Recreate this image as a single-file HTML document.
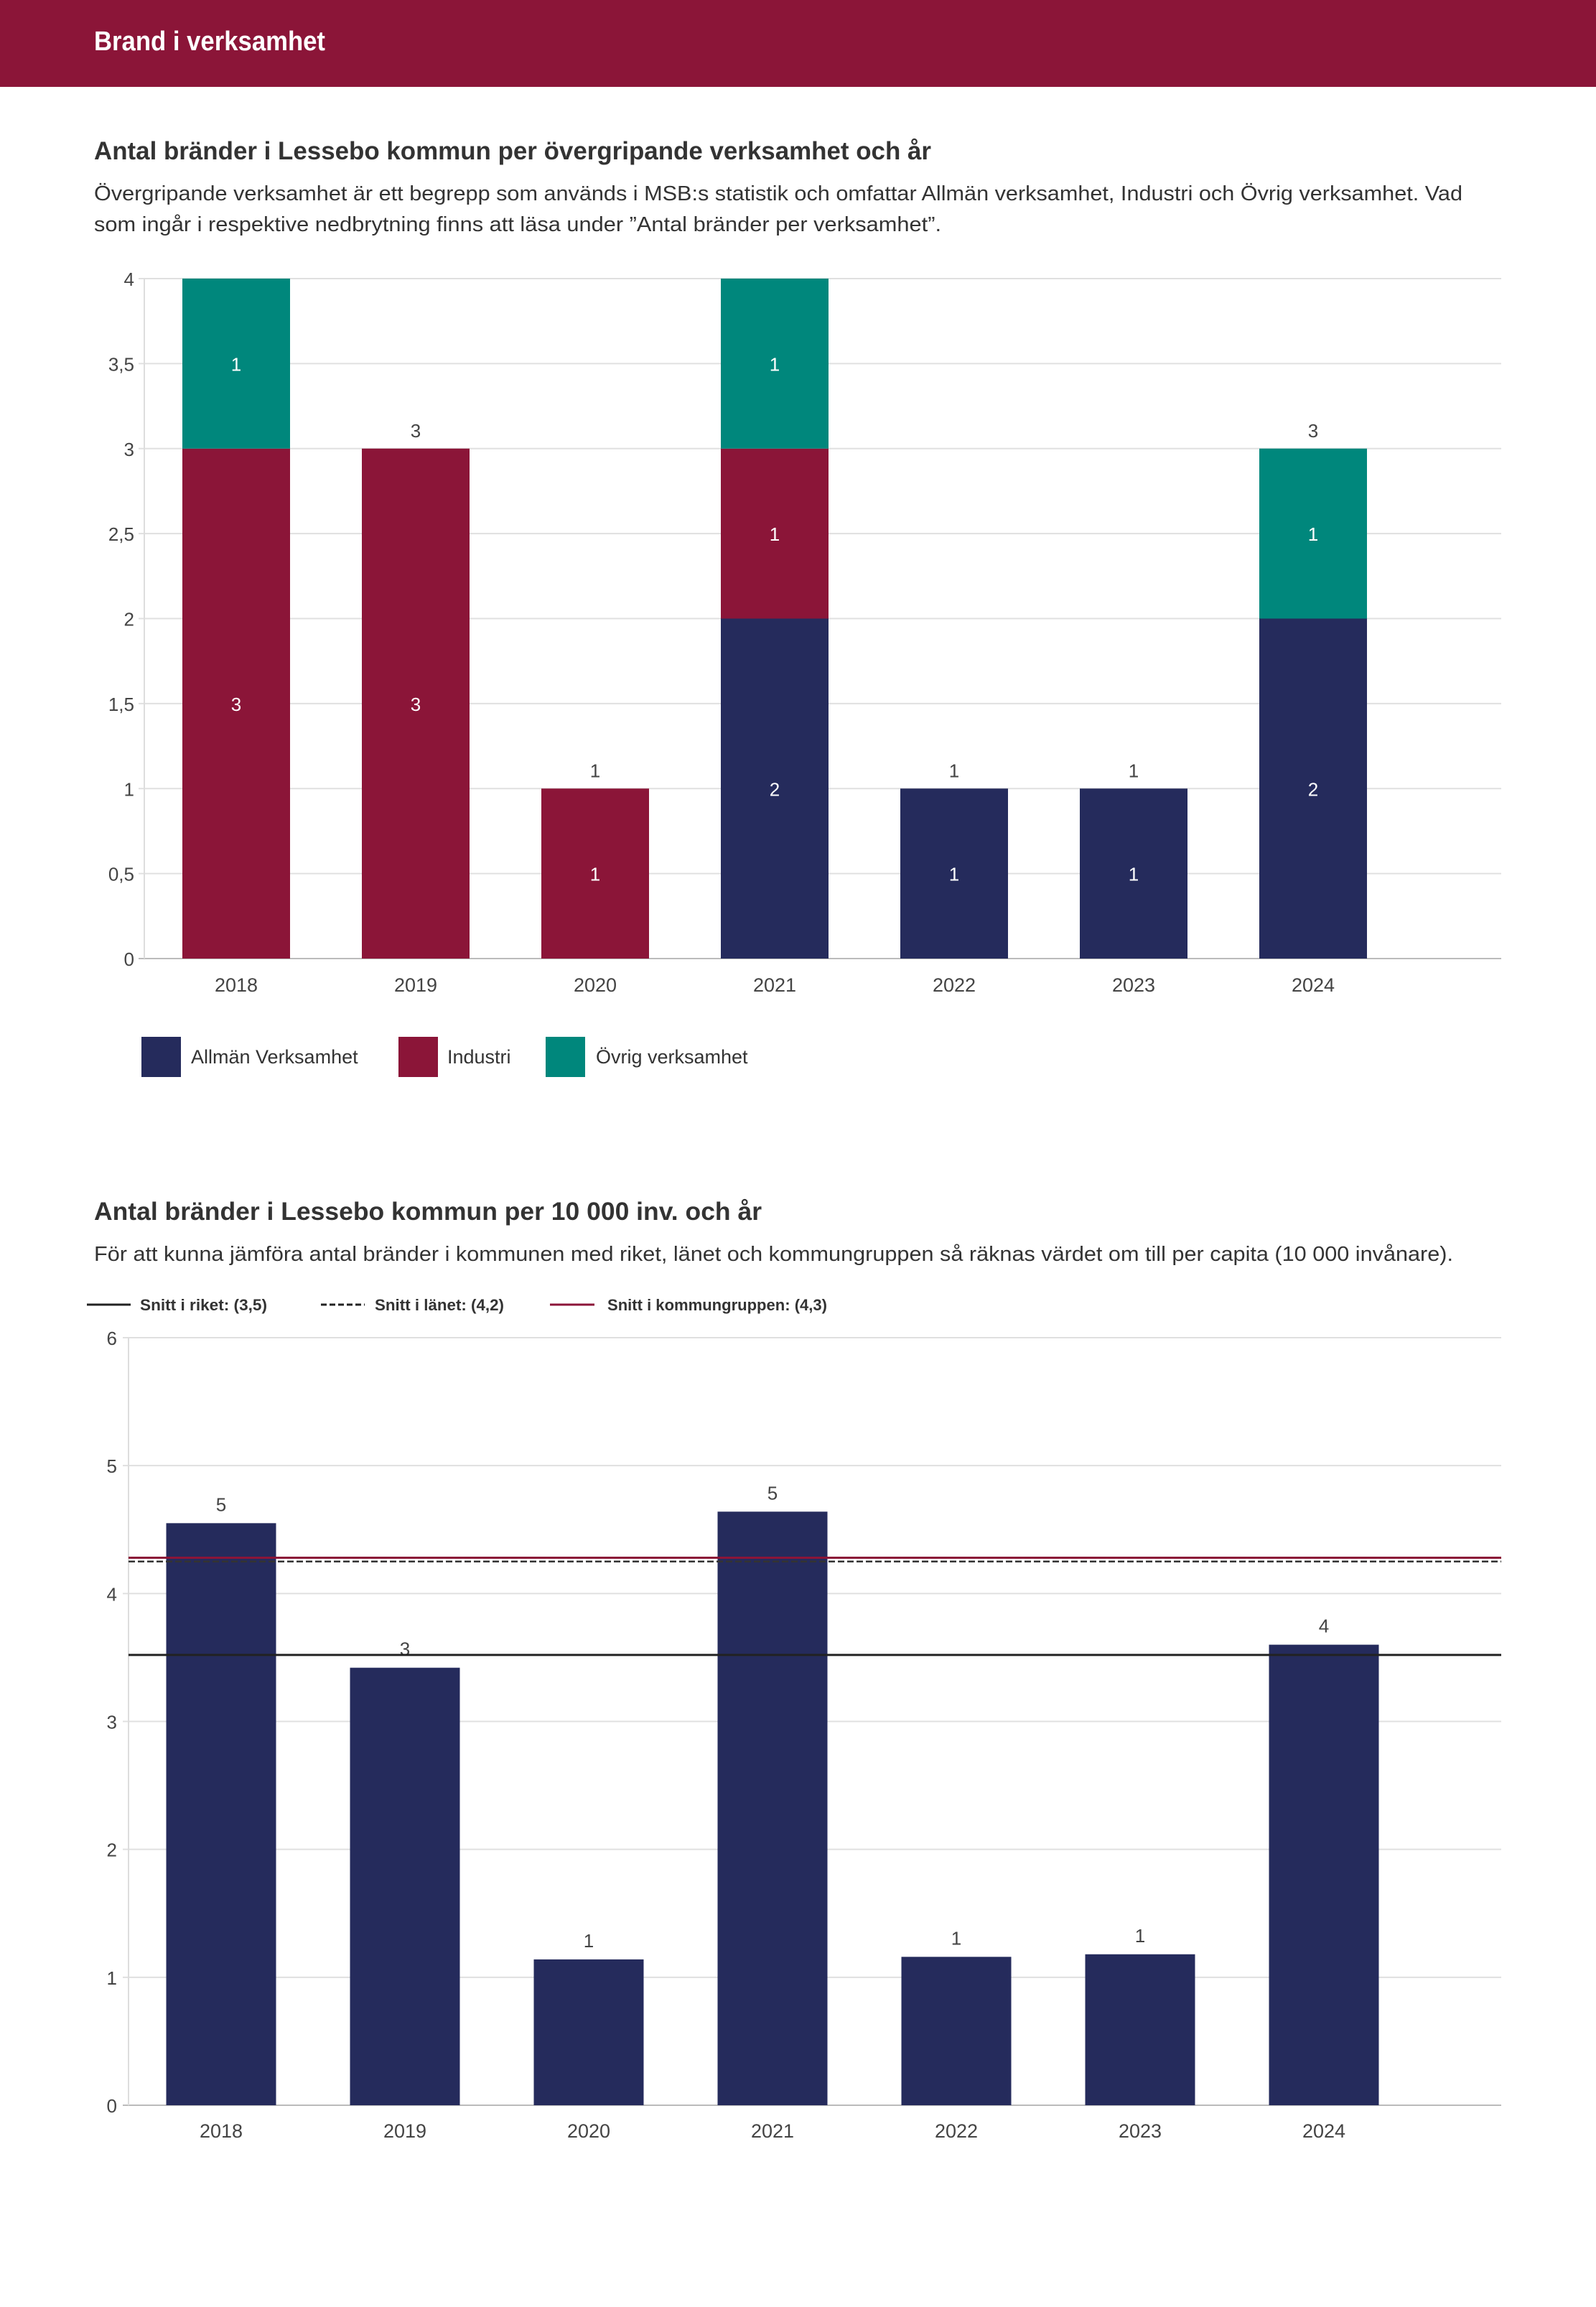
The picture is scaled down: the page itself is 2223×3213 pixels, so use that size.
<!DOCTYPE html>
<html><head><meta charset="utf-8"><style>
html,body{margin:0;padding:0;background:#fff;}
svg{display:block;font-family:"Liberation Sans",sans-serif;}
</style></head><body>
<svg id="page" width="2223" height="3213" viewBox="0 0 2223 3213" xmlns="http://www.w3.org/2000/svg">
<rect x="0" y="0" width="2223" height="121" fill="#8B1538"/>
<text x="131" y="70" font-size="38" font-weight="bold" fill="#fff" textLength="322" lengthAdjust="spacingAndGlyphs">Brand i verksamhet</text>

<text x="131" y="222" font-size="35" font-weight="bold" fill="#333" textLength="1166" lengthAdjust="spacingAndGlyphs">Antal bränder i Lessebo kommun per övergripande verksamhet och år</text>
<text x="131" y="279" font-size="29" fill="#333" textLength="1906" lengthAdjust="spacingAndGlyphs">Övergripande verksamhet är ett begrepp som används i MSB:s statistik och omfattar Allmän verksamhet, Industri och Övrig verksamhet. Vad</text>
<text x="131" y="322" font-size="29" fill="#333" textLength="1180" lengthAdjust="spacingAndGlyphs">som ingår i respektive nedbrytning finns att läsa under ”Antal bränder per verksamhet”.</text>
<g id="chart1"></g>

<g>
<rect x="197" y="1444" width="55" height="56" fill="#252B5C"/>
<text x="266" y="1481" font-size="27" fill="#333">Allmän Verksamhet</text>
<rect x="555" y="1444" width="55" height="56" fill="#8B1538"/>
<text x="623" y="1481" font-size="27" fill="#333">Industri</text>
<rect x="760" y="1444" width="55" height="56" fill="#00877C"/>
<text x="830" y="1481" font-size="27" fill="#333">Övrig verksamhet</text>
</g>

<text x="131" y="1699" font-size="35" font-weight="bold" fill="#333" textLength="930" lengthAdjust="spacingAndGlyphs">Antal bränder i Lessebo kommun per 10 000 inv. och år</text>
<text x="131" y="1756" font-size="29" fill="#333" textLength="1893" lengthAdjust="spacingAndGlyphs">För att kunna jämföra antal bränder i kommunen med riket, länet och kommungruppen så räknas värdet om till per capita (10 000 invånare).</text>
<g>
<line x1="121" y1="1817" x2="182" y2="1817" stroke="#222" stroke-width="3"/>
<text x="195" y="1825" font-size="22" font-weight="bold" fill="#333" textLength="177" lengthAdjust="spacingAndGlyphs">Snitt i riket: (3,5)</text>
<line x1="447" y1="1817" x2="508" y2="1817" stroke="#222" stroke-width="3" stroke-dasharray="8,4"/>
<text x="522" y="1825" font-size="22" font-weight="bold" fill="#333" textLength="180" lengthAdjust="spacingAndGlyphs">Snitt i länet: (4,2)</text>
<line x1="766" y1="1817" x2="828" y2="1817" stroke="#8B1538" stroke-width="3"/>
<text x="846" y="1825" font-size="22" font-weight="bold" fill="#333" textLength="306" lengthAdjust="spacingAndGlyphs">Snitt i kommungruppen: (4,3)</text>
</g>
<g id="chart2"></g>
</svg>
<script>
const years = ["2018","2019","2020","2021","2022","2023","2024"];
const allman = [0,0,0,2,1,1,2];
const industri = [3,3,1,1,0,0,0];
const ovrig = [1,0,0,1,0,0,1];
const ticks1 = [0,0.5,1,1.5,2,2.5,3,3.5,4];
const tickLabels1 = ["0","0,5","1","1,5","2","2,5","3","3,5","4"];

const perCapita = [4.55,3.42,1.14,4.64,1.16,1.18,3.60];
const perCapitaLabels = ["5","3","1","5","1","1","4"];
const avgRiket = [3.52];
const avgLanet = [4.25];
const avgKommungrupp = [4.28];
const ticks2 = [0,1,2,3,4,5,6];
const tickLabels2 = ["0","1","2","3","4","5","6"];

const NS = "http://www.w3.org/2000/svg";
function mk(parent, tag, attrs, text){
  const e = document.createElementNS(NS, tag);
  for (const k in attrs) e.setAttribute(k, attrs[k]);
  if (text !== undefined) e.textContent = text;
  parent.appendChild(e);
  return e;
}

// Chart 1
(function(){
  const g = document.getElementById('chart1');
  const L = 201, R = 2091, T = 388, B = 1335, maxV = 4;
  const y = v => B - (v / maxV) * (B - T);
  const x = i => 329 + 250 * i;
  const bw = 150;
  ticks1.forEach((t, i) => {
    const gl = mk(g, 'line', {x1: L - 8, x2: R, y1: y(t), y2: y(t), stroke: i === 0 ? '#bbb' : '#e0e0e0', 'stroke-width': 2});
    
    
    const tl = mk(g, 'text', {x: 187, y: y(t) + 10, 'text-anchor': 'end', 'font-size': 26, fill: '#444'}, tickLabels1[i]);
    
    
  });
  const ax = mk(g, 'line', {x1: L, x2: L, y1: T, y2: B, stroke: '#ddd', 'stroke-width': 2});
  
  
  const series = [[allman, '#252B5C', 'allman'], [industri, '#8B1538', 'industri'], [ovrig, '#00877C', 'ovrig']];
  years.forEach((yr, i) => {
    let base = 0;
    series.forEach(([arr, col, nm]) => {
      const v = arr[i];
      if (v > 0) {
        const r = mk(g, 'rect', {x: x(i) - bw / 2, y: y(base + v), width: bw, height: y(base) - y(base + v), fill: col});
        
        
        const lt = mk(g, 'text', {x: x(i), y: y(base + v / 2) + 10, 'text-anchor': 'middle', 'font-size': 26, fill: '#fff'}, String(v));
        
        
      }
      base += v;
    });
    if (base < maxV) {
      const tt = mk(g, 'text', {x: x(i), y: y(base) - 16, 'text-anchor': 'middle', 'font-size': 26, fill: '#444'}, String(base));
      
      
    }
    const xl = mk(g, 'text', {x: x(i), y: 1381, 'text-anchor': 'middle', 'font-size': 27, fill: '#444'}, yr);
    
    
  });
})();

// Chart 2
(function(){
  const g = document.getElementById('chart2');
  const L = 179, R = 2091, T = 1863, B = 2932, maxV = 6;
  const y = v => B - (v / maxV) * (B - T);
  const x = i => 308 + 256 * i;
  const bw = 153;
  ticks2.forEach((t, i) => {
    const gl = mk(g, 'line', {x1: L - 8, x2: R, y1: y(t), y2: y(t), stroke: i === 0 ? '#bbb' : '#e0e0e0', 'stroke-width': 2});
    
    
    const tl = mk(g, 'text', {x: 163, y: y(t) + 10, 'text-anchor': 'end', 'font-size': 26, fill: '#444'}, tickLabels2[i]);
    
    
  });
  const ax = mk(g, 'line', {x1: L, x2: L, y1: T, y2: B, stroke: '#ddd', 'stroke-width': 2});
  
  
  years.forEach((yr, i) => {
    const v = perCapita[i];
    const r = mk(g, 'rect', {x: x(i) - bw / 2, y: y(v), width: bw, height: B - y(v), fill: '#252B5C'});
    
    
    const lt = mk(g, 'text', {x: x(i), y: y(v) - 17, 'text-anchor': 'middle', 'font-size': 26, fill: '#444'}, perCapitaLabels[i]);
    
    
    const xl = mk(g, 'text', {x: x(i), y: 2977, 'text-anchor': 'middle', 'font-size': 27, fill: '#444'}, yr);
    
    
  });
  const l1 = mk(g, 'line', {x1: L, x2: R, y1: y(avgKommungrupp[0]), y2: y(avgKommungrupp[0]), stroke: '#8B1538', 'stroke-width': 3});
  
  
  const l2 = mk(g, 'line', {x1: L, x2: R, y1: y(avgLanet[0]), y2: y(avgLanet[0]), stroke: '#333', 'stroke-width': 2.5, 'stroke-dasharray': '9,4'});
  
  
  const l3 = mk(g, 'line', {x1: L, x2: R, y1: y(avgRiket[0]), y2: y(avgRiket[0]), stroke: '#222', 'stroke-width': 3});
  
  
})();
</script>
</body></html>
